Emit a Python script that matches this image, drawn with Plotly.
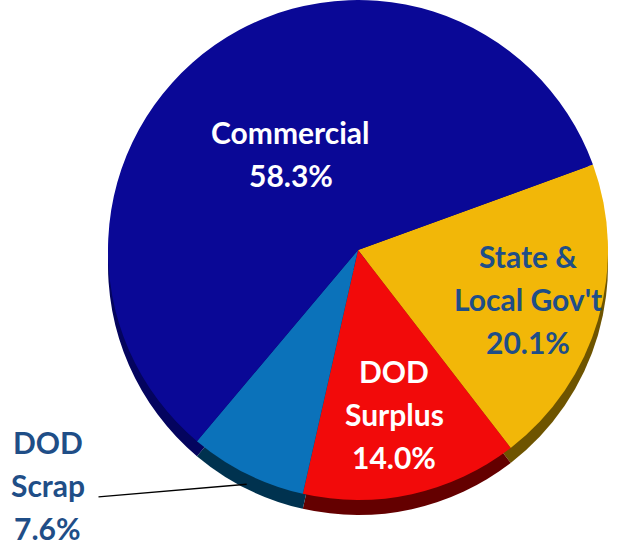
import math
import plotly.graph_objects as go

# ---- data ----
labels = ["State & Local Gov't", "DOD Surplus", "DOD Scrap", "Commercial"]
values = [20.1, 14.0, 7.6, 58.3]
label_lines = [["State &", "Local Gov't", "20.1%"],
               ["DOD", "Surplus", "14.0%"],
               ["DOD", "Scrap", "7.6%"],
               ["Commercial", "58.3%"]]

# ---- style ----
top_colors = ["#F2B708", "#F20A0A", "#0B72BA", "#0A0896"]
side_colors = ["#6E5400", "#640000", "#00324F", "#04045E"]
text_colors = ["#1F4E87", "#FFFFFF", "#1F4E87", "#FFFFFF"]
radius_frac = [0.71, 0.67, None, 0.47]
FONT = "Lato"
FSIZE = 30
LINE_SP = 43

W, H = 625, 547
CX, CY, R = 358, 250, 250
DEPTH = 15
ROT = 70

def px2paper(x, y):
    return x / W, 1 - y / H

fig = go.Figure()
# side (3D depth) pie drawn first, shifted down
fig.add_trace(go.Pie(
    labels=labels, values=values, sort=False, direction="clockwise", rotation=ROT,
    marker=dict(colors=side_colors, line=dict(width=0)),
    textinfo="none", hoverinfo="skip", showlegend=False,
    domain=dict(x=[(CX - R) / W, (CX + R) / W],
                y=[max(0, 1 - (CY + R + DEPTH) / H), min(1, 1 - (CY - R + DEPTH) / H)]),
))
fig.add_trace(go.Pie(
    labels=labels, values=values, sort=False, direction="clockwise", rotation=ROT,
    marker=dict(colors=top_colors, line=dict(width=0)),
    textinfo="none", showlegend=False,
    domain=dict(x=[(CX - R) / W, (CX + R) / W],
                y=[max(0, 1 - (CY + R) / H), min(1, 1 - (CY - R) / H)]),
))

total = sum(values)
cum = 0
annotations = []
for i, v in enumerate(values):
    mid = math.radians(ROT + 360 * (cum + v / 2) / total)
    cum += v
    lines = label_lines[i]
    n = len(lines)
    if radius_frac[i] is not None:
        bx = CX + radius_frac[i] * R * math.sin(mid)
        by = CY - radius_frac[i] * R * math.cos(mid)
    else:
        # outside label with leader line
        bx, by = 48, 485
        hx = CX + R * math.sin(mid)
        hy = CY - R * math.cos(mid) + DEPTH * 0.7
        tx, ty = 97, 497
        px_, py_ = px2paper(hx, hy)
        annotations.append(dict(x=px_, y=py_, xref="paper", yref="paper",
                                text=" ", font=dict(size=1), showarrow=True,
                                arrowhead=0, arrowwidth=1.5, arrowcolor="#000000",
                                ax=tx - hx, ay=ty - hy, standoff=0, startstandoff=0))
    for j, t in enumerate(lines):
        ly = by + (j - (n - 1) / 2) * LINE_SP
        x_, y_ = px2paper(bx, ly)
        annotations.append(dict(x=x_, y=y_, xref="paper", yref="paper", text="<b>%s</b>" % t,
                                showarrow=False, xanchor="center", yanchor="middle",
                                font=dict(family=FONT, size=FSIZE, color=text_colors[i])))

fig.update_layout(
    width=W, height=H, margin=dict(l=0, r=0, t=0, b=0),
    paper_bgcolor="white", plot_bgcolor="white",
    annotations=annotations,
)
fig.write_html("out.html", config={"displayModeBar": False},
               post_script="document.body.style.margin='0';document.body.style.padding='0';document.body.style.overflow='hidden';")
